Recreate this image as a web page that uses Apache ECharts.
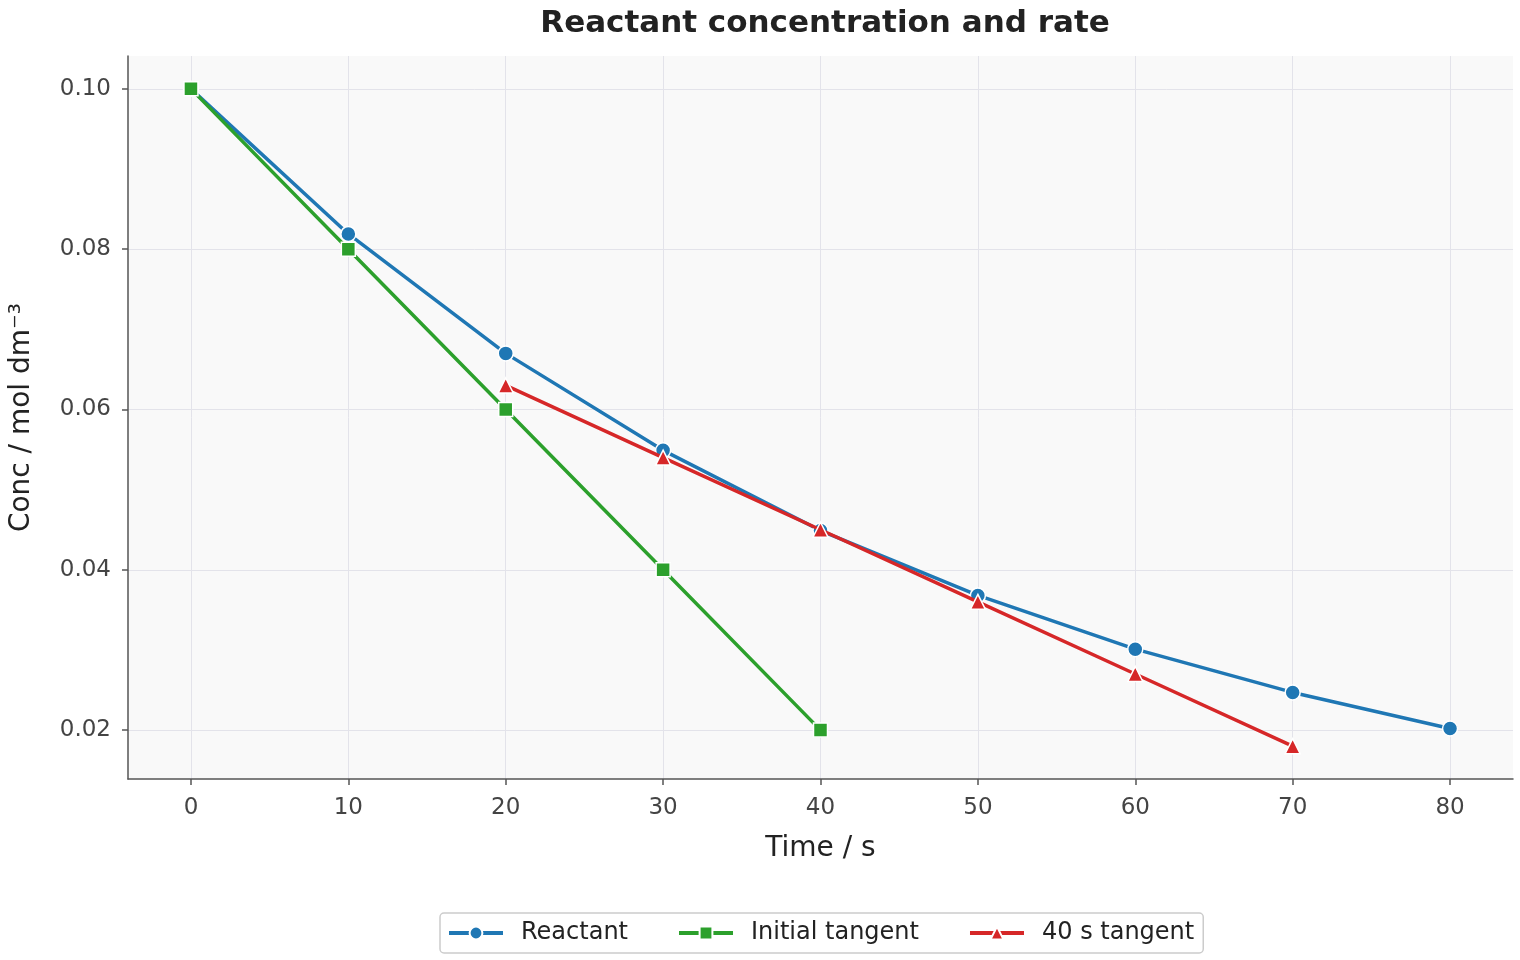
<!DOCTYPE html>
<html>
<head>
<meta charset="utf-8">
<script src="https://cdn.jsdelivr.net/npm/echarts@6/dist/echarts.min.js"></script>
<style>
html,body{margin:0;padding:0;background:#fff;}
#chart{width:1520px;height:960px;}
</style>
</head>
<body>
<div id="chart"></div>
<script>
var timeTicks = [0, 10, 20, 30, 40, 50, 60, 70, 80];
var concTicks = [0.02, 0.04, 0.06, 0.08, 0.10];
var reactantTime = [0, 10, 20, 30, 40, 50, 60, 70, 80];
var reactantConc = [0.1, 0.0819, 0.067, 0.0549, 0.0449, 0.0368, 0.0301, 0.0247, 0.0202];
var initialTime = [0, 10, 20, 30, 40];
var initialConc = [0.1, 0.08, 0.06, 0.04, 0.02];
var tangentTime = [20, 30, 40, 50, 60, 70];
var tangentConc = [0.063, 0.054, 0.045, 0.036, 0.027, 0.018];

function pairs(xs, ys){
	var out = [];
	for(var i=0;i<xs.length;i++){ out.push([xs[i], ys[i]]); }
	return out;
}

var font = 'DejaVu Sans';
var myChart = echarts.init(document.getElementById('chart'));
var option = {
	animation: false,
	title: {
		text: 'Reactant concentration and rate',
		left: 820, top: 3, textAlign: 'center',
		textStyle: {fontFamily: font, fontSize: 31, fontWeight: 'bold', color: '#222'}
	},
	legend: {
		bottom: 7, left: 440,
		padding: [8, 9, 8, 7],
		itemGap: 49, itemWidth: 54, itemHeight: 16,
		borderColor: '#cccccc', borderWidth: 1.5, borderRadius: 4,
		backgroundColor: '#fff',
		lineStyle: {width: 4},
		textStyle: {fontFamily: font, fontSize: 24, color: '#222', padding: [0, 0, 0, 13]}
	},
	grid: {left: 127, right: 7, top: 56, bottom: 181, backgroundColor: '#f9f9f9', show: true, borderWidth: 0},
	xAxis: {
		type: 'value', min: -4, max: 84,
		name: 'Time / s', nameLocation: 'middle', nameGap: 56,
		nameTextStyle: {fontFamily: font, fontSize: 28, color: '#222'},
		axisLine: {onZero: false, lineStyle: {color: '#555', width: 1.5}},
		axisTick: {show: true, length: 6, lineStyle: {color: '#555', width: 1.5}, customValues: timeTicks},
		axisLabel: {fontFamily: font, fontSize: 23, color: '#444', margin: 18, customValues: timeTicks},
		splitLine: {show: true, lineStyle: {color: '#e3e3ea', width: 1}}
	},
	yAxis: {
		type: 'value', min: 0.0139, max: 0.1041,
		name: 'Conc / mol dm\u207B\u00B3', nameLocation: 'middle', nameGap: 92,
		nameTextStyle: {fontFamily: font, fontSize: 28, color: '#222'},
		axisLine: {show: true, onZero: false, lineStyle: {color: '#555', width: 1.5}},
		axisTick: {show: true, length: 6, lineStyle: {color: '#555', width: 1.5}, customValues: concTicks},
		axisLabel: {fontFamily: font, fontSize: 23, color: '#444', margin: 17, customValues: concTicks,
			formatter: function(v){ return v.toFixed(2); }},
		splitLine: {show: true, lineStyle: {color: '#e3e3ea', width: 1}}
	},
	series: [{
		name: 'Reactant', type: 'line',
		data: pairs(reactantTime, reactantConc),
		symbol: 'circle', symbolSize: 15,
		lineStyle: {color: '#1f77b4', width: 3.5},
		itemStyle: {color: '#1f77b4', borderColor: '#fff', borderWidth: 1.5},
		z: 3
	}, {
		name: 'Initial tangent', type: 'line',
		data: pairs(initialTime, initialConc),
		symbol: 'rect', symbolSize: 14,
		lineStyle: {color: '#2ca02c', width: 3.5},
		itemStyle: {color: '#2ca02c', borderColor: '#fff', borderWidth: 1.5},
		z: 4
	}, {
		name: '40 s tangent', type: 'line',
		data: pairs(tangentTime, tangentConc),
		symbol: 'triangle', symbolSize: 15,
		lineStyle: {color: '#d62728', width: 3.5},
		itemStyle: {color: '#d62728', borderColor: '#fff', borderWidth: 1.5},
		z: 5
	}]
};
myChart.setOption(option);
</script>
</body>
</html>
